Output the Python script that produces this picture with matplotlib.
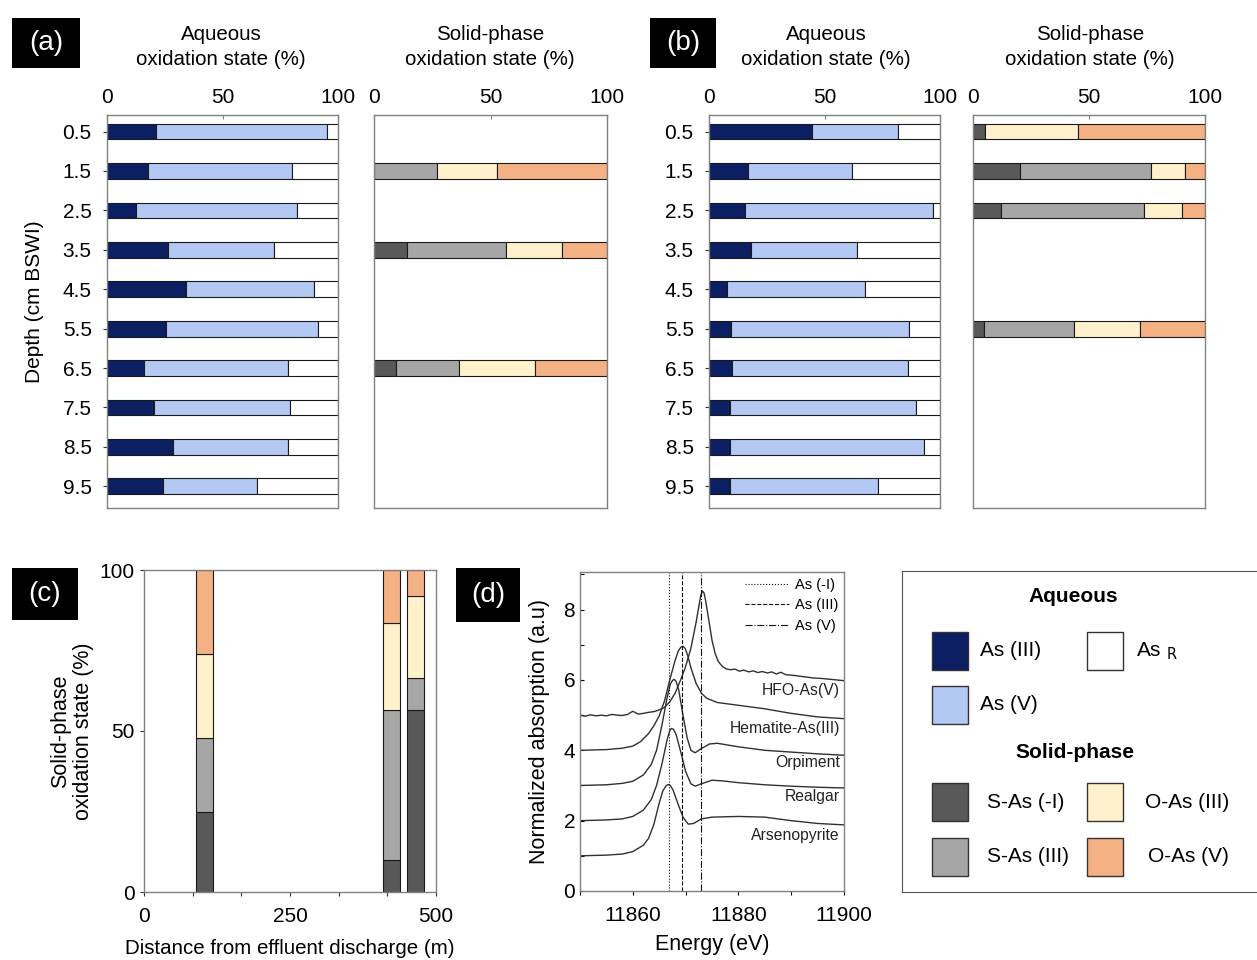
import matplotlib
matplotlib.use('Agg')
import matplotlib.pyplot as plt
from matplotlib.patches import Rectangle
import numpy as np

plt.rcParams['font.family'] = ['Liberation Sans', 'DejaVu Sans']
plt.rcParams['mathtext.default'] = 'regular'

W, H = 1257, 960

# colours
col_as3 = '#0b1f62'
col_as5 = '#b4c8f4'
col_asr = '#ffffff'
col_sm1 = '#595959'
col_s3 = '#a6a6a6'
col_o3 = '#fff1cc'
col_o5 = '#f4b183'
spine_c = '#808080'

depth_labels = ['0.5', '1.5', '2.5', '3.5', '4.5', '5.5', '6.5', '7.5', '8.5', '9.5']
depths = np.array([0.5, 1.5, 2.5, 3.5, 4.5, 5.5, 6.5, 7.5, 8.5, 9.5])

# (a) aqueous fractions (%)
a_as3 = np.array([21.4, 17.6, 12.6, 26.2, 34.2, 25.5, 16.2, 20.2, 28.7, 24.4])
a_as5 = np.array([73.8, 62.4, 69.8, 46.1, 55.5, 66.0, 62.3, 59.1, 49.8, 40.4])
a_asr = np.array([4.8, 20.0, 17.6, 27.7, 10.3, 8.5, 21.5, 20.7, 21.5, 35.2])

# (a) solid-phase fractions (%)
a_sol_depth = np.array([1.5, 3.5, 6.5])
a_sm1 = np.array([0.0, 14.3, 9.5])
a_s3 = np.array([26.9, 42.4, 27.1])
a_o3 = np.array([25.9, 24.0, 32.7])
a_o5 = np.array([47.2, 19.3, 30.7])

# (b) aqueous fractions (%)
b_as3 = np.array([44.6, 17.0, 15.5, 18.2, 7.8, 9.7, 10.0, 9.2, 9.0, 9.2])
b_as5 = np.array([37.4, 45.1, 81.4, 45.7, 59.9, 77.0, 76.2, 80.3, 84.2, 63.8])
b_asr = np.array([18.0, 37.9, 3.1, 36.1, 32.3, 13.3, 13.8, 10.5, 6.8, 27.0])

# (b) solid-phase fractions (%)
b_sol_depth = np.array([0.5, 1.5, 2.5, 5.5])
b_sm1 = np.array([5.1, 20.1, 12.1, 4.6])
b_s3 = np.array([0.0, 56.8, 61.5, 38.8])
b_o3 = np.array([40.3, 14.4, 16.7, 28.7])
b_o5 = np.array([54.6, 8.7, 9.7, 27.9])

# (c) solid phase vs distance
c_dist = np.array([104, 424, 465])
c_sm1 = np.array([24.8, 10.0, 56.4])
c_s3 = np.array([22.9, 46.4, 10.0])
c_o3 = np.array([26.1, 27.1, 25.6])
c_o5 = np.array([26.2, 16.5, 8.0])

# (d) XANES reference spectra
e_hfo = [11850, 11851, 11852, 11853, 11854, 11855, 11856, 11857, 11858, 11859,
         11860, 11861, 11862, 11863, 11864, 11865, 11866, 11867, 11868, 11869,
         11870, 11871, 11872, 11872.6, 11872.9, 11873.2, 11873.5, 11873.8, 11874.4, 11875,
         11875.6, 11876.2, 11877, 11877.8, 11878.5, 11879.3, 11880.2, 11881, 11882, 11882.8,
         11883.7, 11884.5, 11885.5, 11886.3, 11887.2, 11888, 11889, 11890.5, 11892, 11894,
         11896, 11898, 11900]
y_hfo = [5.00, 4.97, 5.01, 4.98, 5.00, 4.98, 5.02, 5.00, 4.99, 5.02,
         5.11, 5.03, 5.05, 5.08, 5.10, 5.15, 5.22, 5.38, 5.62, 5.98,
         6.38, 6.90, 7.65, 8.17, 8.42, 8.53, 8.47, 8.25, 7.70, 7.13,
         6.75, 6.52, 6.38, 6.31, 6.29, 6.31, 6.25, 6.28, 6.23, 6.26,
         6.21, 6.24, 6.20, 6.23, 6.17, 6.22, 6.15, 6.13, 6.10, 6.06,
         6.04, 6.01, 5.98]

e_hem = [11850, 11855, 11858, 11860, 11861.5, 11863, 11864, 11865, 11866, 11867,
         11868, 11868.6, 11869.1, 11869.5, 11869.9, 11870.4, 11871, 11872, 11873, 11874,
         11876, 11878, 11880, 11885, 11890, 11895, 11900]
y_hem = [4.0, 4.02, 4.06, 4.12, 4.25, 4.48, 4.7, 4.98, 5.4, 6.0,
         6.55, 6.82, 6.93, 6.96, 6.9, 6.7, 6.35, 5.9, 5.62, 5.48,
         5.36, 5.32, 5.28, 5.18, 5.05, 4.95, 4.9]

e_orp = [11850, 11855, 11858, 11860, 11862, 11863.5, 11864.5, 11865.5, 11866.5, 11867.1,
         11867.5, 11867.8, 11868.2, 11868.7, 11869.5, 11870.3, 11871, 11871.8, 11873, 11874.5,
         11876, 11878, 11880, 11885, 11890, 11895, 11900]
y_orp = [3.0, 3.02, 3.06, 3.12, 3.3, 3.6, 4.0, 4.7, 5.5, 5.88,
         5.98, 6.02, 5.96, 5.72, 5.0, 4.35, 4.0, 3.93, 4.05, 4.18,
         4.2, 4.15, 4.1, 4.0, 3.95, 3.9, 3.86]

e_rea = [11850, 11855, 11858, 11860, 11862, 11863.5, 11864.5, 11865.5, 11866.5, 11867,
         11867.3, 11867.7, 11868.2, 11869, 11870, 11871, 11871.8, 11873, 11875, 11877,
         11880, 11885, 11890, 11895, 11900]
y_rea = [2.0, 2.02, 2.05, 2.12, 2.3, 2.6, 3.0, 3.6, 4.3, 4.56,
         4.62, 4.6, 4.45, 4.0, 3.4, 3.05, 2.98, 3.05, 3.15, 3.13,
         3.08, 3.02, 2.98, 2.95, 2.93]

e_apy = [11850, 11855, 11858, 11860, 11862, 11863, 11864, 11865, 11865.7, 11866.3,
         11866.7, 11867.1, 11867.6, 11868.5, 11869.5, 11870.5, 11871.5, 11873, 11875, 11880,
         11885, 11890, 11895, 11900]
y_apy = [1.0, 1.02, 1.05, 1.12, 1.3, 1.5, 1.9, 2.5, 2.85, 2.99,
         3.03, 3.0, 2.88, 2.5, 2.1, 1.9, 1.92, 2.05, 2.1, 2.12,
         2.1, 2.0, 1.92, 1.88]

spectra_names = ['HFO-As(V)', 'Hematite-As(III)', 'Orpiment', 'Realgar', 'Arsenopyrite']
spectra_label_y = [5.71, 4.62, 3.66, 2.68, 1.59]
edge_e = [11866.8, 11869.4, 11873.0]
edge_names = ['As (-I)', 'As (III)', 'As (V)']

FS = 15


def rect(x0, y0, x1, y1):
    return [x0 / W, 1 - y1 / H, (x1 - x0) / W, (y1 - y0) / H]


def frame(ax):
    for s in ax.spines.values():
        s.set_color(spine_c)
        s.set_linewidth(1.0)


def hstack(ax, rows, parts, cols):
    left = np.zeros(len(rows))
    for vals, c in zip(parts, cols):
        ax.barh(rows, vals, left=left, height=0.4, color=c,
                edgecolor='#1a1a1a', linewidth=0.8)
        left = left + vals


def depth_axes(x0, x1, show_y):
    ax = fig.add_axes(rect(x0, 115, x1, 508))
    ax.set_xlim(0, 100)
    ax.set_ylim(9.55, -0.42)
    ax.xaxis.tick_top()
    ax.set_xticks([0, 50, 100])
    ax.tick_params(axis='x', direction='in', length=3, labelsize=FS, pad=6, color=spine_c)
    ax.set_yticks(np.arange(10))
    if show_y:
        ax.set_yticklabels(depth_labels)
        ax.tick_params(axis='y', direction='out', length=3, labelsize=FS, pad=8, color='#333333')
    else:
        ax.set_yticks([])
    frame(ax)
    return ax


fig = plt.figure(figsize=(W / 100, H / 100), dpi=100)

aq_cols = [col_as3, col_as5, col_asr]
sol_cols = [col_sm1, col_s3, col_o3, col_o5]

# (a)
ax = depth_axes(107, 338, True)
hstack(ax, depths - 0.5, [a_as3, a_as5, a_asr], aq_cols)
ax = depth_axes(374, 607, False)
hstack(ax, a_sol_depth - 0.5, [a_sm1, a_s3, a_o3, a_o5], sol_cols)

# (b)
ax = depth_axes(709, 940, True)
hstack(ax, depths - 0.5, [b_as3, b_as5, b_asr], aq_cols)
ax = depth_axes(973, 1205, False)
hstack(ax, b_sol_depth - 0.5, [b_sm1, b_s3, b_o3, b_o5], sol_cols)

for cx in [221, 490, 826, 1090]:
    t = 'Aqueous\noxidation state (%)' if cx in (221, 826) else 'Solid-phase\noxidation state (%)'
    fig.text(cx / W, 1 - 47 / H, t, ha='center', va='center', fontsize=14.8, linespacing=1.45)

fig.text(35 / W, 1 - 302 / H, 'Depth (cm BSWI)', rotation=90, ha='center', va='center', fontsize=FS)

# (c)
ax = fig.add_axes(rect(144, 570, 436, 892))
bottom = np.zeros(len(c_dist))
for vals, c in zip([c_sm1, c_s3, c_o3, c_o5], sol_cols):
    ax.bar(c_dist, vals, bottom=bottom, width=30, color=c, edgecolor='#1a1a1a', linewidth=0.8)
    bottom = bottom + vals
ax.set_xlim(0, 500)
ax.set_ylim(0, 100)
ax.set_xticks(np.arange(7) * 500 / 6)
ax.set_xticklabels(['0', '', '', '250', '', '', '500'])
ax.set_yticks([0, 50, 100])
ax.tick_params(direction='out', length=3, labelsize=FS, color='#333333')
ax.tick_params(axis='x', pad=8)
frame(ax)
ax.set_ylabel('Solid-phase\noxidation state (%)', fontsize=15.5, labelpad=4, linespacing=1.15)
ax.set_xlabel('Distance from effluent discharge (m)', fontsize=14.8, labelpad=9)

# (d)
ax = fig.add_axes(rect(580, 572, 844, 891))
for e, y in [(e_hfo, y_hfo), (e_hem, y_hem), (e_orp, y_orp), (e_rea, y_rea), (e_apy, y_apy)]:
    ax.plot(e, y, color='#303030', linewidth=1.0)
for name, ly in zip(spectra_names, spectra_label_y):
    ax.text(11899.2, ly, name, ha='right', va='center', fontsize=11.3, color='#222222')
for e, ls, name in zip(edge_e, [':', '--', '-.'], edge_names):
    ax.axvline(e, color='#111111', linestyle=ls, linewidth=0.8, label=name)
ax.legend(loc='upper right', frameon=False, fontsize=10.5, handlelength=3,
          labelspacing=0.45, borderaxespad=0.0, handletextpad=0.4)
ax.set_xlim(11850, 11900)
ax.set_ylim(0, 9.07)
ax.set_xticks([11850, 11860, 11870, 11880, 11890, 11900])
ax.set_xticklabels(['', '11860', '', '11880', '', '11900'])
ax.set_yticks(np.arange(10))
ax.set_yticklabels(['0', '', '2', '', '4', '', '6', '', '8', ''])
ax.tick_params(axis='x', direction='out', length=3, labelsize=FS, pad=8)
ax.tick_params(axis='y', direction='in', length=3, labelsize=FS)
frame(ax)
ax.set_xlabel('Energy (eV)', fontsize=15.5, labelpad=6)
ax.set_ylabel('Normalized absorption (a.u)', fontsize=15.5, labelpad=10)

# panel labels
for lab, x0, y0, x1, y1 in [('(a)', 12, 18, 80, 68), ('(b)', 650, 18, 716, 68),
                            ('(c)', 12, 568, 78, 620), ('(d)', 456, 568, 520, 622)]:
    fig.patches.append(Rectangle((x0 / W, 1 - y1 / H), (x1 - x0) / W, (y1 - y0) / H,
                                 transform=fig.transFigure, facecolor='black', edgecolor='none'))
    fig.text((x0 + x1) / 2 / W, 1 - (y0 + y1) / 2 / H, lab, color='white',
             ha='center', va='center', fontsize=20)

# legend box
lg = fig.add_axes(rect(902, 571, 1265, 892))
lg.set_xlim(902, 1265)
lg.set_ylim(892, 571)
lg.set_xticks([])
lg.set_yticks([])
for s in lg.spines.values():
    s.set_color('#555555')
lg.text(1073, 597, 'Aqueous', ha='center', va='center', fontsize=15, fontweight='bold')
lg.text(1075, 753, 'Solid-phase', ha='center', va='center', fontsize=15, fontweight='bold')
items = [(932, 632, col_as3, 'As (III)', 980), (1087, 632, col_asr, 'As $_{\\rm R}$', 1136),
         (932, 686, col_as5, 'As (V)', 980),
         (932, 783, col_sm1, 'S-As (-I)', 987), (1087, 783, col_o3, 'O-As (III)', 1145),
         (932, 838, col_s3, 'S-As (III)', 987), (1087, 838, col_o5, 'O-As (V)', 1148)]
for x, y, c, t, tx in items:
    lg.add_patch(Rectangle((x, y), 36, 38, facecolor=c, edgecolor='#333333', linewidth=1.0))
    lg.text(tx, y + 19, t, ha='left', va='center', fontsize=15)

fig.savefig('out.png', dpi=100, facecolor='white')
